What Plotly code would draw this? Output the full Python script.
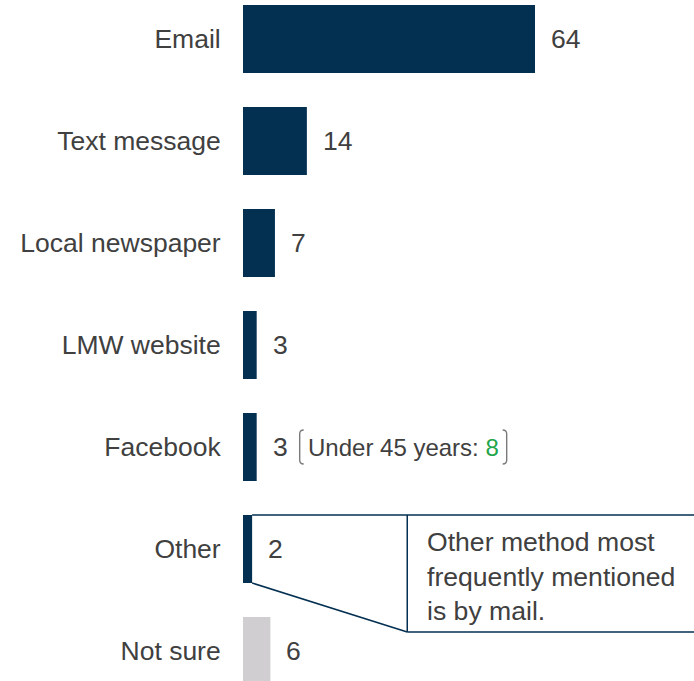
import plotly.graph_objects as go

# Survey: preferred way to receive information (%)
categories = ["Email", "Text message", "Local newspaper", "LMW website",
              "Facebook", "Other", "Not sure"]
values = [64, 14, 7, 3, 3, 2, 6]
bar_colors = ["#032f50"] * 6 + ["#d0ced1"]

facebook_sub_label = "Under 45 years: "
facebook_sub_value = 8
other_note = "Other method most<br>frequently mentioned<br>is by mail."

NAVY = "#032f50"
TEXT = "#404040"
FONT = "Liberation Sans, Arial, sans-serif"
BAR_W = 0.667

fig = go.Figure()
fig.add_trace(go.Bar(
    x=values, y=list(range(len(categories))), orientation="h",
    marker=dict(color=bar_colors, line=dict(width=0)),
    width=BAR_W, hoverinfo="skip",
))

# value labels to the right of each bar
for i, v in enumerate(values):
    fig.add_annotation(x=v, y=i, text=str(v), showarrow=False,
                       xanchor="left", xshift=14,
                       font=dict(size=26.5, color=TEXT, family=FONT))

# Facebook sub-group note with brackets
fb = categories.index("Facebook")
fb_v = values[fb]
fig.add_annotation(x=fb_v, y=fb, showarrow=False, xanchor="left", xshift=49,
                   text=f"{facebook_sub_label}<span style='color:#1fa54a'>{facebook_sub_value}</span>",
                   font=dict(size=24, color=TEXT, family=FONT))
for x0, d in [(43, 1), (250, -1)]:
    fig.add_shape(type="path", xref="x", yref="y", xsizemode="pixel", ysizemode="pixel",
                  xanchor=fb_v, yanchor=fb,
                  path=(f"M{x0 + 4*d},17 Q{x0},17 {x0},13 L{x0},-13 "
                        f"Q{x0},-17 {x0 + 4*d},-17"),
                  line=dict(color="#7a7a7a", width=1.4))

# callout for "Other"
ot = categories.index("Other")
ot_v = values[ot]
box_x = 36
box_bottom = ot + 0.814
top = ot - BAR_W / 2
bot = ot + BAR_W / 2
line = dict(color=NAVY, width=1.5)
fig.add_shape(type="line", x0=ot_v, x1=120, y0=top, y1=top, line=line)
fig.add_shape(type="line", x0=box_x, x1=box_x, y0=top, y1=box_bottom, line=line)
fig.add_shape(type="line", x0=box_x, x1=120, y0=box_bottom, y1=box_bottom, line=line)
fig.add_shape(type="line", x0=ot_v, x1=box_x, y0=bot, y1=box_bottom, line=line)
fig.add_annotation(x=box_x, y=top, text=other_note, showarrow=False,
                   xanchor="left", yanchor="top", align="left", xshift=18, yshift=-10,
                   font=dict(size=26.6, color=TEXT, family=FONT))

fig.update_layout(
    width=694, height=681,
    margin=dict(l=243, r=0, t=0, b=0),
    paper_bgcolor="white", plot_bgcolor="white",
    showlegend=False, bargap=0.333,
    xaxis=dict(range=[0, 98.85], visible=False, fixedrange=True),
    yaxis=dict(range=[6.294, -0.382], tickmode="array",
               tickvals=list(range(len(categories))), ticktext=categories,
               showgrid=False, zeroline=False, showline=False,
               ticks="outside", ticklen=16, tickcolor="rgba(0,0,0,0)",
               tickfont=dict(size=26.5, color=TEXT, family=FONT)),
)

fig.write_html("out.html")
